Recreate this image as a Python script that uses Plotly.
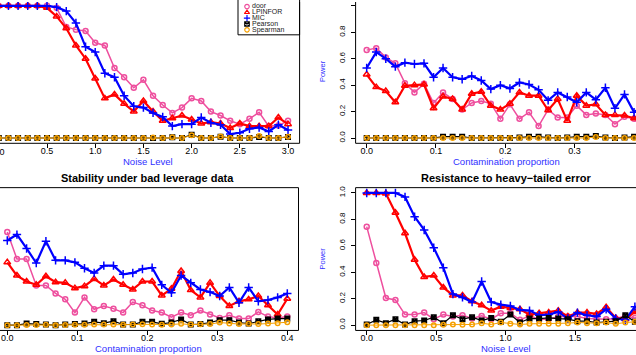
import plotly.graph_objects as go

W, H = 636, 355
FONT = "Liberation Sans, Arial, sans-serif"
AXIS_BLUE = "#2F2FFF"

METHODS = ["door", "LPINFOR", "MIC", "Pearson", "Spearman"]
COLORS = ["#EE4F9E", "#FF0000", "#0000FF", "#000000", "#F5A000"]
SYMBOLS = ["circle-open", "triangle-up-open", "cross-thin", "square-x-open", "circle-open"]
LINE_W = [1.5, 2.2, 2.2, 1.2, 1.0]
MARK_S = [5, 6, 6, 4.5, 4.5]

# panel 1: noise level (top left)
noise_a = [0.0, 0.1, 0.2, 0.3, 0.4, 0.5, 0.6, 0.7, 0.8, 0.9, 1.0, 1.1, 1.2, 1.3, 1.4, 1.5,
           1.6, 1.7, 1.8, 1.9, 2.0, 2.1, 2.2, 2.3, 2.4, 2.5, 2.6, 2.7, 2.8, 2.9, 3.0]
door_a = [1, 1, 1, 1, 1, 1, 0.985, 0.84, 0.82, 0.81, 0.72, 0.70, 0.53, 0.46, 0.38, 0.44,
          0.32, 0.25, 0.19, 0.23, 0.30, 0.28, 0.20, 0.17, 0.13, 0.105, 0.145, 0.195, 0.09, 0.095, 0.13]
lpinfor_a = [1, 1, 1, 1, 1, 0.985, 0.92, 0.83, 0.70, 0.60, 0.45, 0.30, 0.33, 0.26, 0.20, 0.28,
             0.20, 0.13, 0.15, 0.17, 0.14, 0.11, 0.12, 0.11, 0.075, 0.11, 0.09, 0.09, 0.09, 0.155, 0.105]
mic_a = [1, 1, 1, 1, 1, 1, 0.99, 0.96, 0.87, 0.69, 0.65, 0.49, 0.46, 0.32, 0.24, 0.23,
         0.19, 0.16, 0.09, 0.105, 0.105, 0.155, 0.115, 0.10, 0.03, 0.04, 0.07, 0.08, 0.05, 0.10, 0.06]
pearson_a = [0, 0, 0, 0, 0, 0, 0, 0, 0, 0, 0, 0, 0, 0, 0, 0,
             0, 0, 0.005, 0, 0.025, 0, 0, 0.01, 0, 0, 0, 0.008, 0, 0, 0.008]
spearman_a = [0, 0, 0, 0, 0, 0, 0, 0, 0, 0, 0, 0, 0, 0, 0, 0,
              0.003, 0, 0.005, 0, 0.02, 0, 0, 0.012, 0, 0, 0, 0.015, 0, 0, 0.01]

# panels 2 and 3: contamination proportion
contam = [0.0, 0.0138, 0.0276, 0.0414, 0.0552, 0.069, 0.0828, 0.0966, 0.1103, 0.1241,
          0.1379, 0.1517, 0.1655, 0.1793, 0.1931, 0.2069, 0.2207, 0.2345, 0.2483, 0.2621,
          0.2759, 0.2897, 0.3034, 0.3172, 0.331, 0.3448, 0.3586, 0.3724, 0.3862, 0.4]

# panel 2 (top right)
door_b = [0.665, 0.68, 0.61, 0.565, 0.415, 0.345, 0.41, 0.265, 0.345, 0.295, 0.215, 0.265, 0.28, 0.26, 0.145,
          0.255, 0.145, 0.195, 0.09, 0.215, 0.155, 0.155, 0.245, 0.175, 0.185, 0.175, 0.105, 0.16, 0.145, 0.15]
lpinfor_b = [0.48, 0.385, 0.355, 0.27, 0.395, 0.40, 0.405, 0.225, 0.315, 0.295, 0.215, 0.335, 0.35, 0.245, 0.215,
             0.26, 0.345, 0.32, 0.32, 0.21, 0.295, 0.13, 0.32, 0.245, 0.255, 0.175, 0.175, 0.17, 0.15, 0.15]
mic_b = [0.53, 0.65, 0.60, 0.54, 0.57, 0.56, 0.565, 0.46, 0.53, 0.46, 0.445, 0.47, 0.435, 0.37, 0.40,
         0.375, 0.42, 0.405, 0.365, 0.285, 0.345, 0.31, 0.27, 0.345, 0.29, 0.38, 0.225, 0.33, 0.195, 0.25]
pearson_b = [0, 0, 0, 0, 0, 0, 0, 0, 0.01, 0.01, 0.01, 0, 0, 0, 0,
             0, 0.003, 0.01, 0.01, 0.003, 0, 0.003, 0.01, 0.01, 0.015, 0.003, 0, 0.003, 0.01, 0.005]
spearman_b = [0, 0, 0, 0, 0, 0, 0, 0, 0, 0, 0, 0, 0, 0, 0,
              0, 0, 0, 0, 0, 0, 0, 0, 0, 0.008, 0, 0, 0, 0, 0]

# panel 3 (bottom left)
door_c = [0.705, 0.50, 0.50, 0.30, 0.30, 0.24, 0.195, 0.095, 0.21, 0.12, 0.145, 0.125, 0.095, 0.175, 0.15,
          0.11, 0.095, 0.06, 0.095, 0.075, 0.11, 0.08, 0.055, 0.075, 0.05, 0.05, 0.10, 0.065, 0.055, 0.065]
lpinfor_c = [0.475, 0.375, 0.33, 0.305, 0.37, 0.325, 0.32, 0.28, 0.295, 0.35, 0.30, 0.345, 0.305, 0.27, 0.33,
             0.33, 0.225, 0.275, 0.41, 0.265, 0.21, 0.32, 0.22, 0.145, 0.18, 0.195, 0.22, 0.15, 0.08, 0.20]
mic_c = [0.64, 0.685, 0.58, 0.47, 0.635, 0.49, 0.49, 0.475, 0.43, 0.395, 0.45, 0.45, 0.385, 0.395, 0.425,
         0.435, 0.305, 0.245, 0.375, 0.32, 0.27, 0.25, 0.22, 0.285, 0.17, 0.285, 0.18, 0.19, 0.21, 0.24]
pearson_c = [0, 0, 0.012, 0.008, 0.005, 0, 0.005, 0.008, 0.012, 0.025, 0.015, 0.03, 0.005, 0.005, 0.025,
             0.025, 0.01, 0.02, 0.043, 0.005, 0.008, 0.02, 0.038, 0.038, 0.02, 0.012, 0.03, 0.043, 0.05, 0.05]
spearman_c = [0, 0, 0.002, 0.002, 0.003, 0, 0.002, 0.003, 0.003, 0.005, 0.004, 0.005, 0.003, 0.004, 0.006,
              0.004, 0.003, 0.005, 0.01, 0.004, 0.006, 0.008, 0.02, 0.012, 0.008, 0.01, 0.008, 0.012, 0.015, 0.022]

# panel 4: heavy-tailed noise level (bottom right)
noise_d = [0.0, 0.069, 0.138, 0.2069, 0.2759, 0.3448, 0.4138, 0.4828, 0.5517, 0.6207,
           0.6897, 0.7586, 0.8276, 0.8966, 0.9655, 1.0345, 1.1034, 1.1724, 1.2414, 1.3103,
           1.3793, 1.4483, 1.5172, 1.5862, 1.6552, 1.7241, 1.7931, 1.8621, 1.931, 2.0]
door_d = [0.745, 0.47, 0.205, 0.19, 0.08, 0.08, 0.095, 0.045, 0.08, 0.065, 0.075, 0.05, 0.07, 0.045, 0.09,
          0.09, 0.04, 0.07, 0.045, 0.045, 0.065, 0.065, 0.065, 0.05, 0.045, 0.045, 0.05, 0.07, 0.055, 0.06]
lpinfor_d = [1.0, 1.0, 0.995, 0.85, 0.695, 0.495, 0.365, 0.375, 0.285, 0.225, 0.225, 0.18, 0.15, 0.11, 0.14,
             0.13, 0.12, 0.08, 0.09, 0.095, 0.11, 0.065, 0.095, 0.095, 0.085, 0.135, 0.055, 0.045, 0.10, 0.09]
mic_d = [1.0, 1.0, 1.0, 1.0, 0.97, 0.82, 0.72, 0.585, 0.435, 0.235, 0.21, 0.175, 0.33, 0.175, 0.155,
         0.145, 0.115, 0.11, 0.075, 0.08, 0.10, 0.05, 0.095, 0.075, 0.065, 0.12, 0.05, 0.04, 0.14, 0.10]
pearson_d = [0.005, 0.04, 0.015, 0.045, 0.005, 0.03, 0.035, 0.06, 0.015, 0.075, 0.045, 0.06, 0.035, 0.055, 0.025,
             0.08, 0.02, 0.05, 0.05, 0.055, 0.05, 0.045, 0.03, 0.03, 0.02, 0.025, 0.03, 0.075, 0.025, 0.03]
spearman_d = [0, 0, 0, 0, 0, 0, 0, 0, 0.003, 0.005, 0.003, 0.005, 0.015, 0.005, 0.02,
              0.01, 0.005, 0.01, 0.01, 0.01, 0.01, 0.015, 0.02, 0.015, 0.015, 0.02, 0.01, 0.02, 0.025, 0.02]

panels = [
    ("", noise_a, [door_a, lpinfor_a, mic_a, pearson_a, spearman_a]),
    ("2", contam, [door_b, lpinfor_b, mic_b, pearson_b, spearman_b]),
    ("3", contam, [door_c, lpinfor_c, mic_c, pearson_c, spearman_c]),
    ("4", noise_d, [door_d, lpinfor_d, mic_d, pearson_d, spearman_d]),
]


def fx(p):
    return p / W


def fy(p):
    return 1 - p / H


fig = go.Figure()
for suffix, xs, series in panels:
    for i, ys in enumerate(series):
        fig.add_trace(go.Scatter(
            x=xs, y=ys, mode="lines+markers", name=METHODS[i], showlegend=False,
            xaxis="x" + suffix, yaxis="y" + suffix,
            line=dict(color=COLORS[i], width=LINE_W[i]),
            marker=dict(symbol=SYMBOLS[i], size=MARK_S[i], color=COLORS[i],
                        line=dict(color=COLORS[i], width=1.5)),
        ))

# hand-drawn legend (R style, inside panel 1)
legend_rows = list(range(len(METHODS)))
fig.add_trace(go.Scatter(
    x=[9] * len(METHODS), y=legend_rows, mode="markers", xaxis="x5", yaxis="y5", showlegend=False,
    marker=dict(symbol=SYMBOLS, size=4.5, color=COLORS, line=dict(color=COLORS, width=1.2)),
))
fig.add_trace(go.Scatter(
    x=[14] * len(METHODS), y=legend_rows, mode="text", text=METHODS, textposition="middle right",
    xaxis="x5", yaxis="y5", showlegend=False,
    textfont=dict(family=FONT, size=7, color="#222222"),
))

tick_style = dict(ticks="outside", ticklen=3.5, tickcolor="black", tickwidth=1, showgrid=False,
                  zeroline=False, showline=False, tickfont=dict(family=FONT, size=9, color="black"),
                  tickformat=".1f", ticklabelstandoff=-5)
ytick_style = dict(ticks="outside", ticklen=4, tickcolor="black", tickwidth=1, showgrid=False,
                   zeroline=False, showline=False, tickfont=dict(family=FONT, size=8, color="black"),
                   tickformat=".1f", tickangle=-90, ticklabelstandoff=2)
top = [fy(142.1), 1]
bottom = [fy(330.3), fy(186.7)]
left_dom = [0, fx(299.6)]
right_dom = [fx(355.6), 1]

fig.update_layout(
    width=W, height=H, margin=dict(l=0, r=0, t=0, b=0),
    paper_bgcolor="white", plot_bgcolor="rgba(0,0,0,0)", showlegend=False,
    xaxis=dict(domain=left_dom, range=[0.0125, 3.12], dtick=0.5, tick0=0, anchor="y", **tick_style),
    yaxis=dict(domain=top, range=[-0.04, 1.029], anchor="x", showticklabels=False,
               ticks="", showgrid=False, zeroline=False),
    xaxis2=dict(domain=right_dom, range=[-0.016, 0.389], dtick=0.1, tick0=0, anchor="y2", **tick_style),
    yaxis2=dict(domain=top, range=[-0.04, 1.029], dtick=0.2, tick0=0, anchor="x2", **ytick_style),
    xaxis3=dict(domain=[0, fx(298.5)], range=[-0.0104, 0.416], dtick=0.1, tick0=0, anchor="y3", **tick_style),
    yaxis3=dict(domain=bottom, range=[-0.04, 1.04], anchor="x3", showticklabels=False,
                ticks="", showgrid=False, zeroline=False),
    xaxis4=dict(domain=right_dom, range=[-0.08, 1.939], dtick=0.5, tick0=0, anchor="y4", **tick_style),
    yaxis4=dict(domain=bottom, range=[-0.04, 1.04], dtick=0.2, tick0=0, anchor="x4", **ytick_style),
    xaxis5=dict(domain=[fx(238), fx(298)], range=[0, 60], visible=False, anchor="y5"),
    yaxis5=dict(domain=[fy(33), 1], range=[4.855, -0.786], visible=False, anchor="x5"),
)

# plot boxes (only the edges that fall inside the picture)
edges = {
    "": [(0, 0, 1, 0), (1, 0, 1, 1)],
    "2": [(0, 0, 1, 0), (0, 0, 0, 1)],
    "3": [(0, 0, 1, 0), (1, 0, 1, 1), (0, 1, 1, 1)],
    "4": [(0, 0, 1, 0), (0, 0, 0, 1), (0, 1, 1, 1)],
}
for suffix, segs in edges.items():
    for x0, y0, x1, y1 in segs:
        fig.add_shape(type="line", xref="x%s domain" % suffix, yref="y%s domain" % suffix,
                      x0=x0, y0=y0, x1=x1, y1=y1, line=dict(color="black", width=1))
fig.add_shape(type="rect", xref="paper", yref="paper", x0=fx(238), x1=fx(299.6), y0=fy(33), y1=fy(-5),
              line=dict(color="black", width=1))


def label(text, x, y, size=10, color=AXIS_BLUE, angle=0):
    fig.add_annotation(text=text, x=fx(x), y=fy(y), xref="paper", yref="paper", showarrow=False,
                       xanchor="center", yanchor="middle", textangle=angle,
                       font=dict(family=FONT, size=size, color=color))


label("Noise Level", 148, 160, size=9.5)
label("Contamination proportion", 506.5, 160, size=9.5)
label("Contamination proportion", 148.5, 348, size=9.5)
label("Noise Level", 506, 348, size=9.5)
label("Power", 322.5, 70, size=7.5, angle=-90)
label("Power", 323, 258, size=7.5, angle=-90)
label("<b>Stability under bad leverage data</b>", 147.3, 176.7, size=11, color="black")
label("<b>Resistance to heavy\u2212tailed error</b>", 505.6, 176.7, size=11, color="black")
label("0.0", -1.2, 150.5, size=9, color="black")

# the page body has a default 8px margin; drop it so the figure sits at the corner
fig.write_html("out.html", config={"displayModeBar": False},
               post_script="document.body.style.margin='0';")
